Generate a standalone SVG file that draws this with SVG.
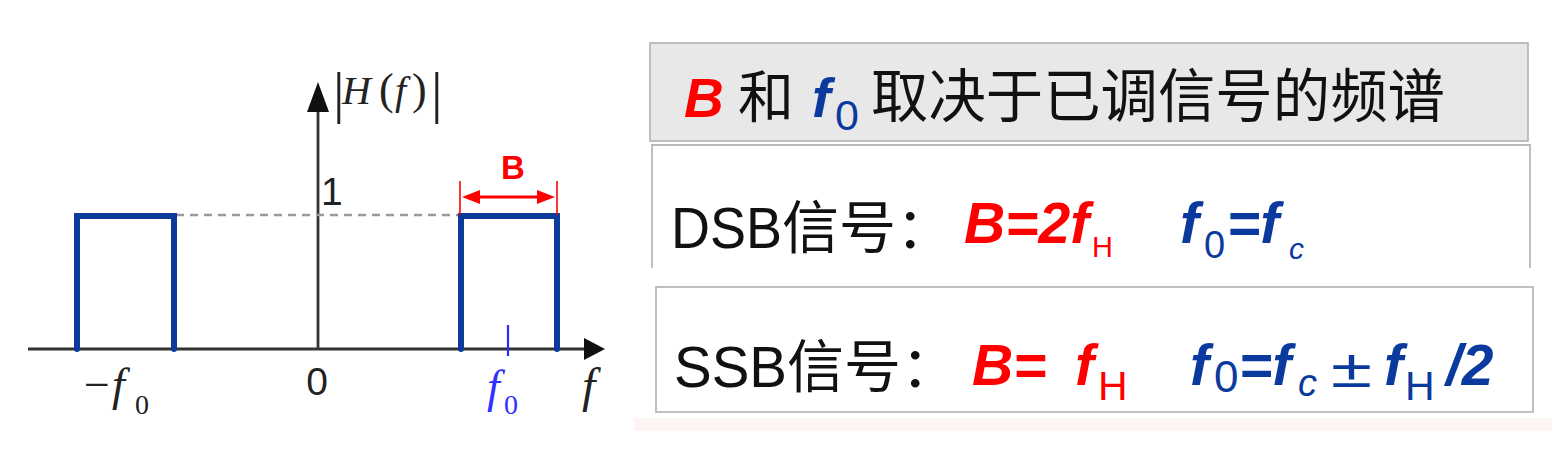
<svg xmlns="http://www.w3.org/2000/svg" width="1564" height="461" viewBox="0 0 1564 461">
<style>
.ax{stroke:#333;stroke-width:2.8;fill:none}
.band{stroke:#0d3a9b;stroke-width:6;fill:none;stroke-linecap:round;stroke-linejoin:miter}
.math{font-family:"Liberation Serif","Times New Roman",serif;font-style:italic}
.rm{font-family:"Liberation Serif","Times New Roman",serif}
.sans{font-family:"Liberation Sans",Arial,sans-serif}
.cjk{font-family:"Noto Sans CJK SC","Liberation Sans",sans-serif}
.bi{font-family:"Liberation Sans",Arial,sans-serif;font-weight:bold;font-style:italic}
.red{fill:#ff0000}
.blu{fill:#0b3a9e}
.box{stroke:#b9b9b9;stroke-width:1.8}
</style>
<rect width="1564" height="461" fill="#ffffff"/>

<g id="axes">
<line class="ax" x1="28" y1="349" x2="590" y2="349"/>
<polygon points="605,349 584,338 584,360" fill="#111"/>
<line class="ax" x1="318" y1="349" x2="318" y2="108"/>
<polygon points="318,82 307,112 329,112" fill="#111"/>
<line x1="176" y1="215" x2="460" y2="215" stroke="#9a9a9a" stroke-width="2.5" stroke-dasharray="8,6"/>
</g>

<g id="band-left">
<path class="band" d="M77,349 V216 H174 V349"/>
</g>
<g id="band-right">
<path class="band" d="M461,349 V216 H557 V349"/>
<line x1="508" y1="325" x2="508" y2="356" stroke="#2a2aff" stroke-width="2.2"/>
</g>

<g id="bandwidth">
<line x1="460" y1="181" x2="460" y2="215" stroke="#ff0000" stroke-width="1.6"/>
<line x1="557" y1="181" x2="557" y2="215" stroke="#ff0000" stroke-width="1.6"/>
<line x1="480" y1="197" x2="537" y2="197" stroke="#ff0000" stroke-width="3"/>
<polygon points="462,197 480,190 480,204" fill="#ff0000"/>
<polygon points="555,197 537,190 537,204" fill="#ff0000"/>
<text class="sans red" x="513" y="179" font-size="33" font-weight="bold" text-anchor="middle">B</text>
</g>

<g id="labels-left">
<text class="rm" x="333" y="112" font-size="58" fill="#222">|</text>
<text class="rm" x="431" y="112" font-size="58" fill="#222">|</text>
<text x="342" y="104" font-size="40" fill="#222"><tspan class="math">H</tspan><tspan class="rm" x="379" font-size="44">(</tspan><tspan class="math" x="395">f</tspan><tspan class="rm" x="412" font-size="44">)</tspan></text>
<text class="sans" x="321" y="205" font-size="39" fill="#222">1</text>
<text class="sans" x="317" y="395" font-size="39" fill="#222" text-anchor="middle">0</text>
<text x="84" y="400" font-size="46" fill="#222"><tspan class="rm">−</tspan><tspan class="math" x="112">f</tspan><tspan class="rm" x="135" y="414" font-size="28">0</tspan></text>
<text x="487" y="402" font-size="46" fill="#3030ff"><tspan class="math">f</tspan><tspan class="rm" x="504" y="414" font-size="28">0</tspan></text>
<text class="math" x="582" y="402" font-size="48" fill="#222">f</text>
</g>

<g id="header">
<rect class="box" x="650" y="43" width="878" height="98" fill="#e8e8e8"/>
<text class="bi red" x="684" y="117" font-size="55">B</text>
<text class="cjk" x="738" y="117" font-size="56" fill="#111">和</text>
<text class="bi blu" x="812" y="117" font-size="56">f</text>
<text class="sans blu" x="835" y="130" font-size="43">0</text>
<text class="cjk" x="871" y="117" font-size="57.4" fill="#111">取决于已调信号的频谱</text>
</g>

<g id="dsb">
<path class="box" d="M652,268 V145 H1530 V268" fill="#ffffff"/>
<text class="sans" x="671" y="248" font-size="58" fill="#111" textLength="111" lengthAdjust="spacingAndGlyphs">DSB</text>
<text class="cjk" x="782" y="248" font-size="57" fill="#111">信号：</text>
<text class="bi red" x="964" y="243" font-size="57">B=2f</text>
<text class="sans red" x="1092" y="257" font-size="29">H</text>
<text class="bi blu" x="1180" y="243" font-size="57">f</text>
<text class="sans blu" x="1204" y="258" font-size="38">0</text>
<text class="bi blu" x="1227" y="243" font-size="57">=f</text>
<text class="sans blu" x="1289" y="259" font-size="30" font-style="italic">c</text>
</g>

<g id="ssb">
<rect class="box" x="656" y="287" width="877" height="125" fill="#ffffff"/>
<text class="sans" x="674" y="387" font-size="58" fill="#111" textLength="113" lengthAdjust="spacingAndGlyphs">SSB</text>
<text class="cjk" x="787" y="387" font-size="57" fill="#111">信号：</text>
<text class="bi red" x="972" y="385" font-size="57">B=</text>
<text class="bi red" x="1075" y="385" font-size="57">f</text>
<text class="sans red" x="1098" y="400" font-size="41">H</text>
<text class="bi blu" x="1190" y="385" font-size="57">f</text>
<text class="sans blu" x="1214" y="392" font-size="44">0</text>
<text class="bi blu" x="1239" y="385" font-size="57">=f</text>
<text class="sans blu" x="1298" y="396" font-size="38" font-style="italic">c</text>
<text class="sans blu" x="1331" y="387" font-size="54" textLength="41" lengthAdjust="spacingAndGlyphs">±</text>
<text class="bi blu" x="1384" y="385" font-size="57">f</text>
<text class="sans blu" x="1405" y="400" font-size="41">H</text>
<text class="bi blu" x="1446" y="385" font-size="57">/2</text>
</g>

<rect x="634" y="418" width="918" height="13" fill="#fdf4f4"/>
</svg>
